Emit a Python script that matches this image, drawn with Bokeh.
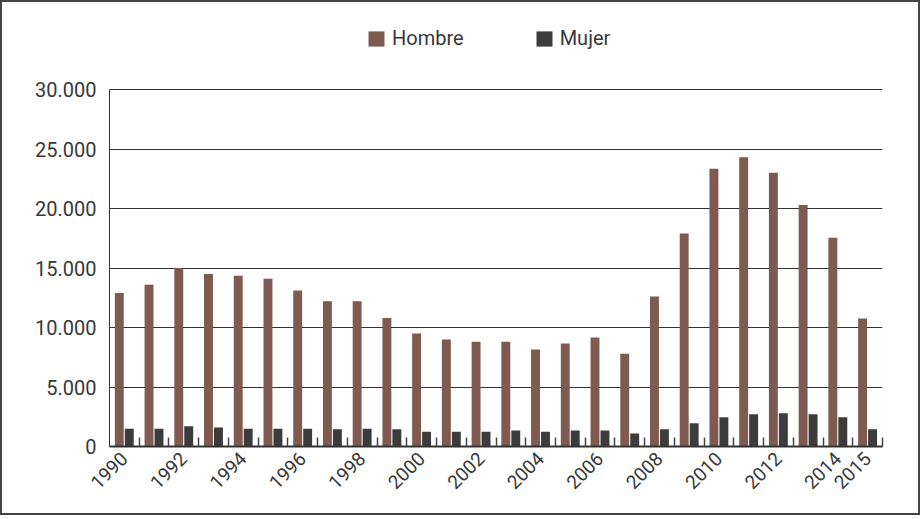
import math

from bokeh.embed import file_html
from bokeh.models import ColumnDataSource, FixedTicker, Legend, LegendItem, Range1d
from bokeh.plotting import figure
from bokeh.resources import INLINE

# Annual counts by sex
years = list(range(1990, 2016))
hombre = [12900, 13600, 15000, 14500, 14350, 14100, 13100, 12200, 12200, 10800,
          9500, 9000, 8800, 8800, 8150, 8650, 9150, 7800, 12600, 17900,
          23350, 24300, 23000, 20300, 17550, 10750]
mujer = [1500, 1500, 1700, 1600, 1500, 1500, 1500, 1450, 1500, 1450,
         1250, 1250, 1250, 1350, 1250, 1350, 1350, 1100, 1450, 1950,
         2450, 2700, 2800, 2700, 2450, 1450]

# Years that carry a label on the category axis
labelled_years = [1990, 1992, 1994, 1996, 1998, 2000, 2002, 2004, 2006,
                  2008, 2010, 2012, 2014, 2015]
y_ticks = [0, 5000, 10000, 15000, 20000, 25000, 30000]

COLOR_H = "#7e5a50"
COLOR_M = "#3c3c3c"
TEXT = "#383838"
FONT = "Roboto"

W, H = 920, 515
LEFT, RIGHT, BOTTOM = 107, 40, 71
AXIS_TOP_PX = 87          # where the 30.000 line sits, from the top edge
y_max = y_ticks[-1]
frame_h = H - BOTTOM
# the frame runs to the top edge so the legend can sit above the value axis
y_end = y_max * frame_h / (frame_h - AXIS_TOP_PX)

n = len(years)
idx = list(range(n))
source = ColumnDataSource(dict(
    x_h=[i + 0.33 for i in idx],
    x_m=[i + 0.665 for i in idx],
    hombre=hombre,
    mujer=mujer,
))

p = figure(
    width=W, height=H,
    x_range=Range1d(0, n), y_range=Range1d(0, y_end),
    output_backend="svg", toolbar_location=None,
    min_border_left=LEFT, min_border_right=RIGHT,
    min_border_top=0, min_border_bottom=BOTTOM,
)
p.styles = {"border": "2px solid #444444"}
p.outline_line_color = None
p.background_fill_color = "white"
p.border_fill_color = "white"

r_h = p.vbar(x="x_h", top="hombre", width=0.3, source=source,
             fill_color=COLOR_H, line_color=None)
r_m = p.vbar(x="x_m", top="mujer", width=0.3, source=source,
             fill_color=COLOR_M, line_color=None)

# x axis: labels at category centres, short ticks at category boundaries
centres = {years.index(y) + 0.5: str(y) for y in labelled_years}
xa = p.xaxis[0]
xa.ticker = FixedTicker(ticks=sorted(centres), minor_ticks=list(range(1, n + 1)))
xa.major_label_overrides = centres
xa.major_tick_in = 0
xa.major_tick_out = 0
xa.minor_tick_in = 9
xa.minor_tick_out = 0
xa.minor_tick_line_color = "#444444"
xa.minor_tick_line_width = 1.5
xa.axis_line_color = "#333333"
xa.axis_line_width = 2
xa.major_label_orientation = math.pi / 4
xa.major_label_standoff = 9
xa.major_label_text_font = FONT
xa.major_label_text_font_size = "19px"
xa.major_label_text_color = TEXT

# y axis with dotted thousands separator, drawn only up to the top value
ya = p.yaxis[0]
ya.ticker = FixedTicker(ticks=y_ticks)
ya.bounds = (0, y_max)
ya.major_label_overrides = {v: f"{v:,}".replace(",", ".") for v in y_ticks}
ya.major_tick_in = 0
ya.major_tick_out = 0
ya.minor_tick_line_color = None
ya.axis_line_color = "#333333"
ya.axis_line_width = 1
ya.major_label_standoff = 13
ya.major_label_text_font = FONT
ya.major_label_text_font_size = "20px"
ya.major_label_text_color = TEXT

p.xgrid.visible = False
p.ygrid.grid_line_color = "#333333"
p.ygrid.grid_line_width = 1

legend = Legend(
    items=[LegendItem(label="Hombre", renderers=[r_h]),
           LegendItem(label="Mujer", renderers=[r_m])],
    location=(257, 396), orientation="horizontal",
    padding=0, margin=0, spacing=70, label_standoff=6,
    glyph_width=20, glyph_height=19,
    border_line_alpha=0, background_fill_alpha=0,
    label_text_font=FONT, label_text_font_size="20px", label_text_color=TEXT,
)
p.add_layout(legend)

open("out.html", "w").write(file_html(p, INLINE))
